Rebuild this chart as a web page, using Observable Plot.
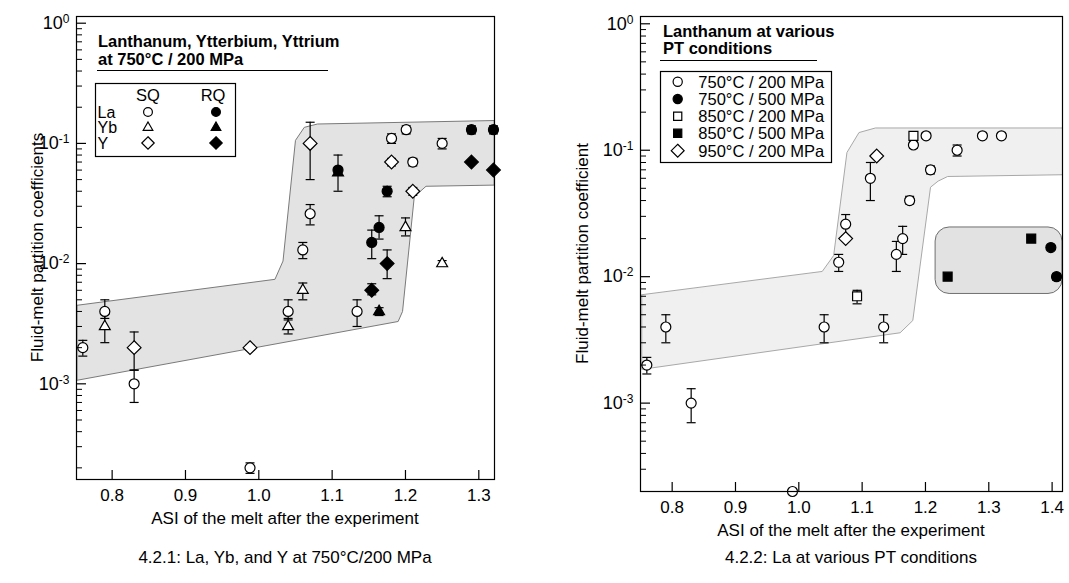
<!DOCTYPE html>
<html><head><meta charset="utf-8">
<script src="https://cdn.jsdelivr.net/npm/d3@7"></script>
<script src="https://cdn.jsdelivr.net/npm/@observablehq/plot@0.6"></script>
<style>
html,body{margin:0;padding:0;background:#fff;}
#wrap{position:relative;width:1069px;height:583px;overflow:hidden;font-family:"Liberation Sans",Arial,Helvetica,sans-serif;}
.panel{position:absolute;top:0;}
#overlay{position:absolute;left:0;top:0;pointer-events:none;}
</style></head>
<body><div id="wrap"><div id="p1" class="panel" style="left:0px"></div><div id="p2" class="panel" style="left:560px"></div><svg id="overlay" width="1069" height="583"></svg></div>
<script>
// ---------- tick values ----------
const leftXTicks = [0.8, 0.9, 1.0, 1.1, 1.2, 1.3];
const rightXTicks = [0.8, 0.9, 1.0, 1.1, 1.2, 1.3, 1.4];
const yDecades = [1, 0.1, 0.01, 0.001];
const minorMult = [2, 3, 4, 5, 6, 7, 8, 9];
const minorDecades = [1e-4, 1e-3, 1e-2, 1e-1];

// ---------- panel 4.2.1 data: [ASI, D, lower, upper] ----------
const laSQ = [
  [0.76, 0.002, 0.0017, 0.0023], [0.79, 0.004, 0.0035, 0.005], [0.83, 0.001, 0.0007, 0.0013],
  [0.988, 0.0002, 0.00018, 0.00022], [1.04, 0.004, 0.0034, 0.005], [1.06, 0.013, 0.011, 0.015],
  [1.07, 0.026, 0.021, 0.031], [1.134, 0.004, 0.003, 0.005], [1.181, 0.11, 0.1, 0.12],
  [1.201, 0.13, 0.12, 0.14], [1.21, 0.07, 0.065, 0.075], [1.25, 0.1, 0.09, 0.11]
];
const laRQ = [
  [1.108, 0.06, 0.04, 0.08], [1.154, 0.015, 0.011, 0.019], [1.164, 0.02, 0.016, 0.025],
  [1.175, 0.04, 0.036, 0.044], [1.29, 0.13, 0.12, 0.14], [1.32, 0.13, 0.12, 0.14]
];
const ybSQ = [
  [0.79, 0.003, 0.0022, 0.0038], [1.04, 0.003, 0.0026, 0.0035], [1.06, 0.006, 0.005, 0.0069],
  [1.20, 0.02, 0.017, 0.024], [1.25, 0.01, 0.0095, 0.0106]
];
const ybRQ = [[1.108, 0.057, null, null], [1.164, 0.004, 0.0037, 0.0043]];
const ySQ = [
  [0.83, 0.002, 0.0013, 0.0027], [0.988, 0.002, 0.0019, 0.0021], [1.07, 0.1, 0.05, 0.15],
  [1.181, 0.07, 0.065, 0.075], [1.21, 0.04, 0.037, 0.043]
];
const yRQ = [[1.154, 0.006, 0.0055, 0.0068], [1.175, 0.01, 0.0075, 0.013], [1.29, 0.07, null, null], [1.32, 0.06, null, null]];
const bandLeft = [
  [0.752, 0.0045], [1.022, 0.0074], [1.033, 0.0105], [1.05, 0.106], [1.062, 0.136], [1.08, 0.145], [1.321, 0.155],
  [1.321, 0.045], [1.228, 0.044], [1.212, 0.036], [1.196, 0.0040], [1.19, 0.0033], [0.752, 0.00107], [0.752, 0.0045]
];

// ---------- panel 4.2.2 data ----------
const la750_200 = [
  [0.76, 0.002, 0.0017, 0.0023], [0.79, 0.004, 0.003, 0.005], [0.83, 0.001, 0.0007, 0.0013],
  [0.99, 0.0002, 0.00019, 0.00021], [1.04, 0.004, 0.003, 0.005], [1.063, 0.013, 0.011, 0.015],
  [1.074, 0.026, 0.021, 0.031], [1.113, 0.06, 0.04, 0.08], [1.134, 0.004, 0.003, 0.005],
  [1.154, 0.015, 0.011, 0.019], [1.164, 0.02, 0.015, 0.025], [1.175, 0.04, 0.0376, 0.0432],
  [1.181, 0.11, 0.104, 0.118], [1.201, 0.13, 0.124, 0.137], [1.208, 0.07, 0.065, 0.075],
  [1.25, 0.1, 0.09, 0.11], [1.29, 0.13, 0.124, 0.137], [1.32, 0.13, 0.124, 0.137]
];
const la750_500 = [[1.398, 0.017, null, null], [1.407, 0.01, 0.0094, 0.0106]];
const la850_200 = [[1.092, 0.007, 0.0061, 0.0078], [1.181, 0.13, null, null]];
const la850_500 = [[1.235, 0.01, null, null], [1.367, 0.02, null, null]];
const la950_200 = [[1.074, 0.02, null, null], [1.123, 0.09, null, null]];
const bandRight = [
  [0.752, 0.0072], [1.037, 0.011], [1.055, 0.0147], [1.076, 0.096], [1.095, 0.138], [1.121, 0.15], [1.4164, 0.15],
  [1.4164, 0.064], [1.235, 0.062], [1.22, 0.057], [1.208, 0.051], [1.18, 0.0045], [1.16, 0.0036], [0.752, 0.00185], [0.752, 0.0072]
];
const box500 = [{x1: 1.216, x2: 1.4164, y1: 0.0073, y2: 0.0245}];

// ---------- helpers ----------
const FONT = '"Liberation Sans", Arial, Helvetica, sans-serif';
const capSymbol = {draw(ctx, size) { const r = Math.sqrt(size / Math.PI); ctx.moveTo(-r, 0); ctx.lineTo(r, 0); }};
const toRows = arr => arr.map(([x, y, lo, hi]) => ({x, y, lo, hi}));
function errMarks(arr) {
  const eb = toRows(arr).filter(d => d.lo != null);
  return [
    Plot.ruleX(eb, {x: "x", y1: "lo", y2: "hi", stroke: "black", strokeWidth: 1.2}),
    Plot.dot(eb, {x: "x", y: "lo", symbol: capSymbol, r: 4.5, fill: "none", stroke: "black", strokeWidth: 1.2}),
    Plot.dot(eb, {x: "x", y: "hi", symbol: capSymbol, r: 4.5, fill: "none", stroke: "black", strokeWidth: 1.2})
  ];
}
function dotMark(arr, symbol, r, filled) {
  return Plot.dot(toRows(arr), {x: "x", y: "y", symbol, r, fill: filled ? "black" : "white", stroke: "black", strokeWidth: 1.2});
}
const minorAll = minorDecades.flatMap(d => minorMult.map(m => +(m * d).toPrecision(3)));

function panel({xDomain, yDomain, xTicks, width, height, mL, mR, mT, mB, marks}) {
  const plotW = width - mL - mR, plotH = height - mT - mB;
  const yMinorIn = minorAll.filter(v => v >= yDomain[0] && v <= yDomain[1]);
  const yMajorIn = yDecades.filter(v => v >= yDomain[0] && v <= yDomain[1]);
  const svg = Plot.plot({
    width, height, marginLeft: mL, marginRight: mR, marginTop: mT, marginBottom: mB,
    style: {fontFamily: FONT, fontSize: "17px", color: "black", background: "white", overflow: "visible"},
    x: {domain: xDomain},
    y: {type: "log", domain: yDomain},
    marks: [
      ...marks,
      Plot.frame({stroke: "black", strokeWidth: 1.2}),
      Plot.tickY(yMajorIn, {y: d => d, insetRight: plotW - 10, stroke: "black", strokeWidth: 1.2}),
      Plot.tickY(yMinorIn, {y: d => d, insetRight: plotW - 6, stroke: "black", strokeWidth: 1}),
      Plot.tickX(xTicks, {x: d => d, insetTop: plotH - 9, stroke: "black", strokeWidth: 1.2}),
      Plot.axisX({ticks: xTicks, tickSize: 0, tickPadding: 9, tickFormat: d3.format(".1f"), label: null, fontSize: 17}),
      Plot.axisY({ticks: yMajorIn, tickSize: 0, tickPadding: 7, tickFormat: d => "10^" + Math.round(Math.log10(d)), label: null, fontSize: 18})
    ]
  });
  d3.select(svg).selectAll('g[aria-label="y-axis tick label"] text').each(function() {
    const s = this.textContent, i = s.indexOf("^");
    if (i < 0) return;
    const t = d3.select(this);
    t.text(s.slice(0, i));
    t.append("tspan").attr("dy", "-0.5em").attr("font-size", "12px").text(s.slice(i + 1));
  });
  return svg;
}

// ---------- panel 1 ----------
const p1 = panel({
  xDomain: [0.7514, 1.3214], yDomain: [1.6e-4, 1.137], xTicks: leftXTicks,
  width: 510, height: 512, mL: 76, mR: 16, mT: 16, mB: 33,
  marks: [
    Plot.line(bandLeft, {x: d => d[0], y: d => d[1], fill: "#e3e3e3", stroke: "#7a7a7a", strokeWidth: 1}),
    ...errMarks(laSQ), ...errMarks(laRQ), ...errMarks(ybSQ), ...errMarks(ybRQ), ...errMarks(ySQ), ...errMarks(yRQ),
    dotMark(laSQ, "circle", 5, false), dotMark(ybSQ, "triangle2", 5.2, false), dotMark(ySQ, "diamond2", 6.2, false),
    dotMark(ybRQ, "triangle2", 5.2, true), dotMark(laRQ, "circle", 5, true), dotMark(yRQ, "diamond2", 6.2, true)
  ]
});
document.getElementById("p1").appendChild(p1);

// ---------- panel 2 ----------
const p2 = panel({
  xDomain: [0.75, 1.4164], yDomain: [2.0e-4, 1.142], xTicks: rightXTicks,
  width: 509, height: 524, mL: 80, mR: 7, mT: 16, mB: 33,
  marks: [
    Plot.line(bandRight, {x: d => d[0], y: d => d[1], fill: "#f0f0f0", stroke: "#a8a8a8", strokeWidth: 1}),
    Plot.rect(box500, {x1: "x1", x2: "x2", y1: "y1", y2: "y2", rx: 14, fill: "#e2e2e2", stroke: "#6f6f6f", strokeWidth: 1}),
    ...errMarks(la750_200), ...errMarks(la750_500), ...errMarks(la850_200), ...errMarks(la850_500), ...errMarks(la950_200),
    dotMark(la750_200, "circle", 5, false), dotMark(la850_200, "square2", 5.7, false), dotMark(la950_200, "diamond2", 6.2, false),
    dotMark(la750_500, "circle", 5, true), dotMark(la850_500, "square2", 5.7, true)
  ]
});
document.getElementById("p2").appendChild(p2);

// ---------- overlay: titles, legends, axis titles, captions ----------
const ov = d3.select("#overlay").style("font-family", FONT);
function txt(x, y, s, o = {}) {
  const t = ov.append("text").attr("x", x).attr("y", y).attr("font-size", o.size || 17)
    .attr("text-anchor", o.anchor || "start").attr("fill", "black").text(s);
  if (o.bold) t.attr("font-weight", "bold");
  if (o.rotate) t.attr("transform", `rotate(-90 ${x} ${y})`);
  return t;
}
function sym(x, y, type, r, filled) {
  ov.append("path").attr("transform", `translate(${x},${y})`)
    .attr("d", d3.symbol(type, Math.PI * r * r)())
    .attr("fill", filled ? "black" : "white").attr("stroke", "black").attr("stroke-width", 1.2);
}
// left legend
txt(98, 46.5, "Lanthanum, Ytterbium, Yttrium", {bold: true, size: 16.5});
txt(98, 64.5, "at 750°C / 200 MPa", {bold: true, size: 16.5});
ov.append("line").attr("x1", 97).attr("x2", 328).attr("y1", 70.5).attr("y2", 70.5).attr("stroke", "black").attr("stroke-width", 1.2);
ov.append("rect").attr("x", 95.5).attr("y", 83.5).attr("width", 140).attr("height", 73).attr("fill", "white").attr("stroke", "black").attr("stroke-width", 1.2);
txt(148, 100.5, "SQ", {anchor: "middle", size: 16.5});
txt(213, 100.5, "RQ", {anchor: "middle", size: 16.5});
const legRows1 = [["La", d3.symbolCircle, 4.4], ["Yb", d3.symbolTriangle2, 4.6], ["Y", d3.symbolDiamond2, 5.6]];
const legY1 = [112, 127.5, 143];
legRows1.forEach(([lab, type, r], i) => {
  txt(97.5, legY1[i] + 5.5, lab, {size: 16});
  sym(148, legY1[i], type, r, false);
  sym(216, legY1[i], type, r, true);
});
// right legend
txt(663, 37, "Lanthanum at various", {bold: true, size: 16.5});
txt(663, 53.5, "PT conditions", {bold: true, size: 16.5});
ov.append("line").attr("x1", 660).attr("x2", 817).attr("y1", 60.5).attr("y2", 60.5).attr("stroke", "black").attr("stroke-width", 1.2);
ov.append("rect").attr("x", 660.5).attr("y", 71.5).attr("width", 171).attr("height", 91).attr("fill", "white").attr("stroke", "black").attr("stroke-width", 1.2);
const legRows2 = [
  ["750°C / 200 MPa", d3.symbolCircle, 4.6, false], ["750°C / 500 MPa", d3.symbolCircle, 4.6, true],
  ["850°C / 200 MPa", d3.symbolSquare2, 5.2, false], ["850°C / 500 MPa", d3.symbolSquare2, 5.2, true],
  ["950°C / 200 MPa", d3.symbolDiamond2, 5.8, false]
];
const legY2 = [81.7, 99, 116.3, 133.3, 150.7];
legRows2.forEach(([lab, type, r, f], i) => {
  sym(677.7, legY2[i], type, r, f);
  txt(698.3, legY2[i] + 6, lab, {size: 16.5});
});
// axis titles
txt(43, 247.5, "Fluid-melt partition coefficients", {anchor: "middle", rotate: true});
txt(588, 253.5, "Fluid-melt partition coefficient", {anchor: "middle", rotate: true});
txt(285, 524, "ASI of the melt after the experiment", {anchor: "middle"});
txt(851, 536, "ASI of the melt after the experiment", {anchor: "middle"});
// captions
txt(285, 563, "4.2.1: La, Yb, and Y at 750°C/200 MPa", {anchor: "middle"});
txt(851, 563, "4.2.2: La at various PT conditions", {anchor: "middle"});
</script></body></html>
